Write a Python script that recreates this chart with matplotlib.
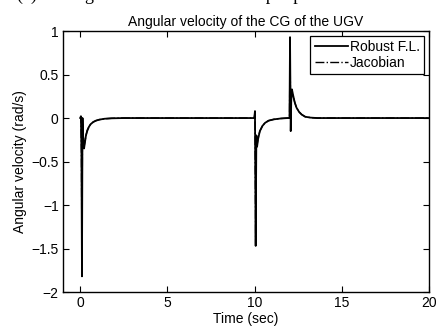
import matplotlib
matplotlib.use("Agg")
import matplotlib.pyplot as plt

plt.rcParams['font.family'] = ['Liberation Sans', 'DejaVu Sans']

# Robust F.L.
rf_t = [0, 0.04, 0.07, 0.1, 0.13, 0.17, 0.22, 0.27, 0.33, 0.4, 0.5, 0.6, 0.75,
        0.9, 1.1, 1.4, 1.8, 2.5, 5, 8, 9.98, 10.02, 10.06, 10.1, 10.14, 10.2,
        10.3, 10.45, 10.6, 10.8, 11.1, 11.5, 11.9, 12.0, 12.03, 12.07, 12.1,
        12.14, 12.2, 12.3, 12.4, 12.55, 12.7, 12.9, 13.2, 13.6, 15, 17.5, 20]
rf_y = [0, 0.02, -0.4, -1.82, 0.0, -0.22, -0.35, -0.28, -0.2, -0.15, -0.1,
        -0.07, -0.045, -0.03, -0.018, -0.008, -0.003, 0, 0, 0, 0, 0.08, -1.47,
        -0.2, -0.33, -0.24, -0.15, -0.09, -0.055, -0.03, -0.015, -0.005, 0, 0,
        0.93, -0.15, 0.2, 0.33, 0.27, 0.18, 0.12, 0.07, 0.04, 0.015, 0.005, 0,
        0, 0, 0]

# Jacobian
jc_t = [0, 0.04, 0.07, 0.1, 0.13, 0.17, 0.22, 0.27, 0.33, 0.4, 0.5, 0.6, 0.75,
        0.9, 1.1, 1.4, 1.8, 2.5, 5, 8, 9.98, 10.02, 10.06, 10.1, 10.14, 10.2,
        10.3, 10.45, 10.6, 10.8, 11.1, 11.5, 11.9, 12.0, 12.03, 12.07, 12.1,
        12.14, 12.2, 12.3, 12.4, 12.55, 12.7, 12.9, 13.2, 13.6, 15, 17.5, 20]
jc_y = [0, 0.02, -0.38, -1.78, 0.0, -0.2, -0.33, -0.27, -0.2, -0.14, -0.1,
        -0.07, -0.045, -0.03, -0.018, -0.008, -0.003, 0, 0, 0, 0, 0.06, -1.44,
        -0.2, -0.31, -0.23, -0.15, -0.09, -0.055, -0.03, -0.015, -0.005, 0, 0,
        0.9, -0.12, 0.2, 0.31, 0.26, 0.18, 0.12, 0.07, 0.04, 0.015, 0.005, 0,
        0, 0, 0]

x_ticks = [0, 5, 10, 15, 20]
y_ticks = [-2, -1.5, -1, -0.5, 0, 0.5, 1]
y_labels = ['\u22122', '\u22121.5', '\u22121', '\u22120.5', '0', '0.5', '1']

fig = plt.figure(figsize=(4.36, 3.27), dpi=100)
ax = fig.add_axes([0.144, 0.107, 0.840, 0.798])

ax.plot(rf_t, rf_y, color='black', lw=1.3, ls='-', label='Robust F.L.')
ax.plot(jc_t, jc_y, color='black', lw=1.0, ls='-.', label='Jacobian')

ax.set_xlim(-1, 20)
ax.set_ylim(-2, 1)
ax.set_xticks(x_ticks)
ax.set_yticks(y_ticks)
ax.set_yticklabels(y_labels)
ax.tick_params(direction='in', length=4, labelsize=10, top=True, right=True,
               width=0.8, pad=3)
for s in ax.spines.values():
    s.set_linewidth(1.0)

ax.set_xlabel('Time (sec)', fontsize=10, labelpad=1)
ax.set_ylabel('Angular velocity (rad/s)', fontsize=10, labelpad=3)
ax.set_title('Angular velocity of the CG of the UGV', fontsize=10, pad=4)

leg = ax.legend(loc='upper right', fontsize=10, fancybox=False, framealpha=1,
                edgecolor='black', borderaxespad=0.35, handlelength=2.4,
                handletextpad=0.15, borderpad=0.3, labelspacing=0.15)
leg.get_frame().set_linewidth(0.9)

# clipped caption line from the page above
fig.text(0.04, 1.014, '(a)      Angular velocities for the input perturbation of the UGV',
         family=['Liberation Serif', 'DejaVu Serif'], fontsize=13, va='center', ha='left')

fig.savefig('out.png', dpi=100)
